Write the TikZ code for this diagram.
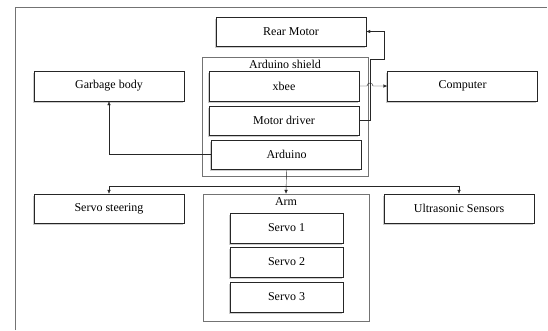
\documentclass[tikz,border=0pt]{standalone}
\usepackage{fontspec}
\setmainfont{Liberation Serif}
\usetikzlibrary{arrows.meta,shadows,calc}

\begin{document}
\begin{tikzpicture}[x=1pt,y=-1pt,>={Latex[length=4pt,width=3.5pt]},
   every node/.style={font=\fontsize{12}{14}\selectfont},
   block/.style={draw=black!85,fill=white,rectangle,minimum height=30pt,minimum width=150pt,
     drop shadow={shadow xshift=-1.2pt,shadow yshift=-1.5pt,fill=black!40}},
   group/.style={draw=black!55,rectangle,inner sep=0pt},
   wire/.style={black!85}]
 \useasboundingbox (0,0) rectangle (548,330);
 % page border (left and top only)
 \draw[black!55,line width=1pt] (15,330) -- (15,7) -- (547,7);
 % containers (explicit pixel coordinates, y grows downwards)
 \node[group,minimum width=166pt,minimum height=119pt] (shield) at (285,116.5) {};
 \node (shieldlbl) at (285,64) {Arduino shield};
 \node[group,minimum width=166pt,minimum height=127pt] (arm) at (286,257.5) {};
 \node (armlbl) at (286,202) {Arm};
 % blocks
 \node[block,minimum height=29pt] (rear) at (291,31.5) {Rear Motor};
 \node[block] (garbage)  at (109,86)    {Garbage body};
 \node[block] (xbee)     at (284,86)    {xbee};
 \node[block] (computer) at (462.5,86)  {Computer};
 \node[block,minimum height=29pt] (motor) at (284,120.5) {Motor driver};
 \node[block,minimum height=29pt] (arduino) at (286.5,154.5) {Arduino};
 \node[block,minimum height=29pt] (steer) at (109,208.5) {Servo steering};
 \node[block,minimum height=29pt] (ultra) at (459,208.5) {Ultrasonic Sensors};
 \node[block,minimum width=113pt] (servoa) at (286.5,228) {Servo 1};
 \node[block,minimum width=113pt] (servob) at (286.5,262) {Servo 2};
 \node[block,minimum width=113pt] (servoc) at (286.5,297) {Servo 3};
 \coordinate (up1) at (370,59);   % motor driver riser
 \coordinate (up2) at (384,59);
 \coordinate (bus) at (286.5,186); % distribution line
 % wires
 \draw[wire,->] (motor.east) -| (up1) -- (up2) |- (rear.east);
 \draw[wire,->] (xbee.east) -- ($(up1|-xbee.east)+(-3,0)$)
    arc[start angle=180,end angle=0,radius=3pt] -- (computer.west);
 \draw[wire,->] (arduino.west) -| (garbage.south);
 \draw[wire,->] (arduino.south) -- (arm.north);
 \draw[wire,->] (bus) -| (steer.north);
 \draw[wire,->] (bus) -| (ultra.north);
\end{tikzpicture}
\end{document}
